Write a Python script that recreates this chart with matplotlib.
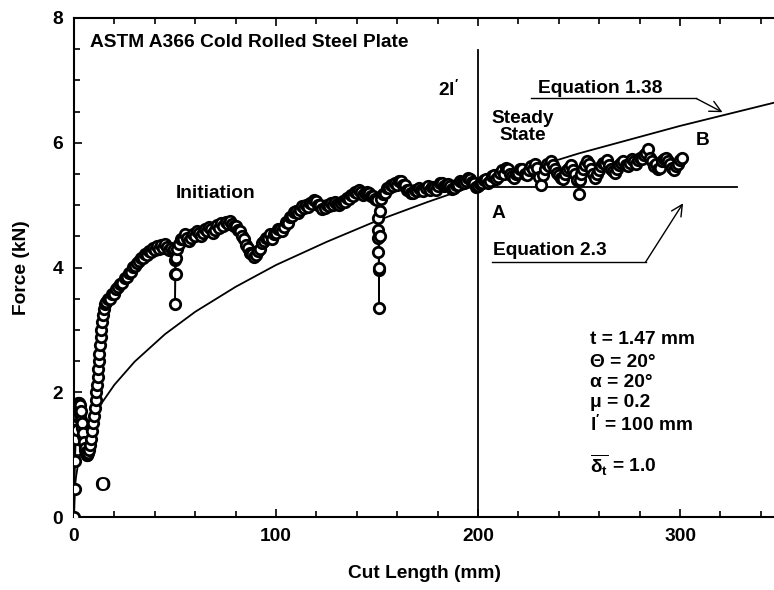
"""Cutting force vs cut length, ASTM A366 cold rolled steel plate."""
import matplotlib

matplotlib.use("Agg")
import matplotlib.pyplot as plt
from matplotlib.ticker import MultipleLocator

plt.rcParams["font.family"] = ["Liberation Sans", "DejaVu Sans"]
plt.rcParams["font.weight"] = "bold"
plt.rcParams["axes.labelweight"] = "bold"
plt.rcParams["mathtext.fontset"] = "custom"
plt.rcParams["mathtext.rm"] = "Liberation Sans:bold"
plt.rcParams["mathtext.it"] = "Liberation Sans:bold"
plt.rcParams["mathtext.default"] = "rm"

cut_length = [
    0.0, 0.3, 0.6, 0.9, 1.2, 1.4, 1.6, 1.8, 2.0, 2.3, 2.5, 2.8, 3.0, 3.3,
    3.5, 3.8, 4.0, 4.3, 4.5, 4.8, 5.0, 5.3, 5.5, 5.8, 6.0, 6.3, 6.5, 6.8,
    7.0, 7.5, 8.0, 8.5, 9.0, 9.5, 10.0, 10.4, 10.8, 11.1, 11.4,
    11.7, 12.0, 12.3, 12.6, 12.9, 13.2, 13.5, 13.8, 14.2, 14.7, 15.3,
    16, 17, 18, 19, 20, 21, 22, 23, 24, 25,
    26, 27, 28, 29, 30, 31, 32, 33, 34, 35,
    36, 37, 38, 39, 40, 41, 42, 43, 44, 45,
    46, 47, 48, 49,
    49.5, 49.8, 50.0, 50.1, 50.3, 50.6, 51,
    52, 53, 54, 55, 56, 57, 58, 59,
    60, 61, 62, 63, 64, 65, 66, 67, 68, 69,
    70, 71, 72, 73, 74, 75, 76, 77, 78, 79,
    80, 81, 82, 83, 84, 85, 86, 87, 88, 89,
    90, 91, 92, 93, 94, 95, 96, 97, 98, 99,
    100, 101, 102, 103, 104, 105, 106, 107, 108, 109,
    110, 111, 112, 113, 114, 115, 116, 117, 118, 119,
    120, 121, 122, 123, 124, 125, 126, 127, 128, 129,
    130, 131, 132, 133, 134, 135, 136, 137, 138, 139,
    140, 141, 142, 143, 144, 145, 146, 147, 148, 149,
    150, 150.3, 150.5, 150.6, 150.7, 150.8, 150.9, 151.0, 151.3, 151.6,
    152, 153, 154, 155, 156, 157, 158, 159,
    160, 161, 162, 163, 164, 165, 166, 167, 168, 169,
    170, 171, 172, 173, 174, 175, 176, 177, 178, 179,
    180, 181, 182, 183, 184, 185, 186, 187, 188, 189,
    190, 191, 192, 193, 194, 195, 196, 197, 198, 199,
    200, 201, 202, 203, 204, 205, 206, 207, 208, 209,
    210, 211, 212, 213, 214, 215, 216, 217, 218, 219,
    220, 221, 222, 223, 224, 225, 226, 227, 228, 229,
    230, 231, 232, 233, 234, 235, 236, 237, 238, 239,
    240, 241, 242, 243, 244, 245, 246, 247, 248, 249,
    250, 250.5,
    251, 252, 253, 254, 255, 256, 257, 258, 259,
    260, 261, 262, 263, 264, 265, 266, 267, 268, 269,
    270, 271, 272, 273, 274, 275, 276, 277, 278, 279,
    280, 281, 282, 283, 284, 285, 286, 287, 288, 289,
    290, 291, 292, 293, 294, 295, 296, 297, 298, 299,
    300, 301,
]
force = [
    0.0, 0.45, 0.9, 1.25, 1.55, 1.4, 1.75, 1.6, 1.82, 1.7, 1.83, 1.65,
    1.8, 1.55, 1.7, 1.42, 1.5, 1.3, 1.35, 1.18, 1.2, 1.08, 1.1, 1.02, 1.05,
    1.0, 1.0, 1.04, 1.02, 1.08, 1.15, 1.25, 1.38, 1.5, 1.62, 1.75,
    1.88, 2.0, 2.12, 2.25, 2.38, 2.5, 2.62, 2.75, 2.88, 3.0, 3.12, 3.24,
    3.34, 3.42,
    3.45, 3.49, 3.50, 3.57, 3.58, 3.65, 3.68, 3.73, 3.75, 3.83,
    3.85, 3.91, 3.93, 4.01, 4.02, 4.08, 4.10, 4.15, 4.16, 4.22,
    4.20, 4.27, 4.25, 4.31, 4.28, 4.34, 4.30, 4.36, 4.32, 4.37,
    4.33, 4.28, 4.32, 4.26,
    4.30, 4.12, 3.90, 3.42, 3.90, 4.15, 4.30,
    4.38, 4.45, 4.45, 4.53, 4.48, 4.43, 4.47, 4.54,
    4.50, 4.58, 4.55, 4.50, 4.55, 4.61, 4.58, 4.65, 4.62, 4.56,
    4.60, 4.68, 4.63, 4.71, 4.66, 4.73, 4.70, 4.75, 4.70, 4.66,
    4.66, 4.60, 4.58, 4.50, 4.45, 4.36, 4.32, 4.24, 4.22, 4.17,
    4.20, 4.27, 4.30, 4.39, 4.42, 4.48, 4.48, 4.53, 4.45, 4.53,
    4.55, 4.61, 4.62, 4.59, 4.65, 4.73, 4.72, 4.81, 4.82, 4.89,
    4.90, 4.87, 4.92, 4.98, 4.95, 5.01, 4.97, 5.03, 5.02, 5.08,
    5.06, 5.00, 5.00, 4.94, 4.96, 5.01, 4.98, 5.03, 5.00, 5.05,
    5.02, 5.00, 5.04, 5.07, 5.05, 5.11, 5.10, 5.16, 5.15, 5.21,
    5.20, 5.24, 5.21, 5.17, 5.20, 5.21, 5.20, 5.15, 5.15, 5.10,
    5.08, 4.80, 4.60, 4.47, 4.25, 3.96, 3.35, 4.00, 4.50, 4.90,
    5.10, 5.18, 5.20, 5.28, 5.28, 5.33, 5.30, 5.35,
    5.33, 5.39, 5.38, 5.33, 5.32, 5.25, 5.25, 5.19, 5.20, 5.24,
    5.22, 5.27, 5.25, 5.23, 5.28, 5.30, 5.25, 5.29, 5.27, 5.25,
    5.30, 5.36, 5.35, 5.31, 5.33, 5.34, 5.30, 5.26, 5.28, 5.33,
    5.33, 5.39, 5.37, 5.35, 5.38, 5.43, 5.42, 5.37, 5.35, 5.29,
    5.30, 5.34, 5.36, 5.40, 5.42, 5.36, 5.38, 5.46, 5.48, 5.42,
    5.45, 5.52, 5.56, 5.50, 5.60, 5.58, 5.50, 5.46, 5.44, 5.50,
    5.52, 5.58, 5.58, 5.50, 5.48, 5.56, 5.62, 5.58, 5.66, 5.60,
    5.45, 5.32, 5.48, 5.58, 5.66, 5.62, 5.70, 5.64, 5.58, 5.52,
    5.48, 5.44, 5.42, 5.50, 5.56, 5.60, 5.64, 5.56, 5.50, 5.40,
    5.18, 5.40,
    5.50, 5.58, 5.64, 5.70, 5.66, 5.58, 5.50, 5.44, 5.50,
    5.56, 5.62, 5.68, 5.66, 5.72, 5.64, 5.58, 5.54, 5.52, 5.58,
    5.64, 5.68, 5.70, 5.64, 5.62, 5.68, 5.74, 5.70, 5.66, 5.72,
    5.76, 5.74, 5.80, 5.84, 5.90, 5.76, 5.70, 5.62, 5.66, 5.58,
    5.60, 5.70, 5.74, 5.76, 5.70, 5.66, 5.60, 5.56, 5.62, 5.66,
    5.72, 5.75,
]

# Equation 1.38 prediction
eq138_x = [0, 0.5, 1, 2, 4, 7, 10, 14, 20, 30, 45, 60, 80, 100, 125, 150,
           175, 200, 225, 250, 275, 300, 325, 350]
eq138_y = [0.0, 0.49, 0.64, 0.85, 1.11, 1.39, 1.61, 1.84, 2.12, 2.49, 2.93,
           3.29, 3.69, 4.04, 4.41, 4.75, 5.05, 5.33, 5.58, 5.83, 6.05, 6.27,
           6.47, 6.67]

# Equation 2.3 steady-state level
eq23_x = [200, 328]
eq23_y = [5.29, 5.29]

# 2l' boundary
boundary_x = 200
boundary_top = 7.48

params = ["t = 1.47 mm", "\u0398 = 20\u00b0", "\u03b1 = 20\u00b0",
          "\u03bc = 0.2", "l$^{\\prime}$ = 100 mm",
          "$\\overline{\\delta_{t}}$ = 1.0"]
params_y = [2.84, 2.47, 2.16, 1.84, 1.47, 0.83]

fig = plt.figure(figsize=(7.74, 5.90), dpi=100)
ax = fig.add_axes([74 / 774, 1 - 517 / 590, 700 / 774, 499 / 590])

ax.plot(eq138_x, eq138_y, color="black", lw=1.3, zorder=2)
ax.plot(eq23_x, eq23_y, color="black", lw=1.3, zorder=2)
ax.plot([boundary_x, boundary_x], [0, boundary_top], color="black", lw=1.3,
        zorder=2)
ax.plot(cut_length, force, "-o", color="black", lw=1.0, ms=7.5, mew=2.0,
        mfc="white", mec="black", zorder=3)

fs = 13.8
ax.text(8, 7.61, "ASTM A366 Cold Rolled Steel Plate", fontsize=fs,
        va="center", ha="left")
ax.text(70.3, 5.19, "Initiation", fontsize=fs, ha="center", va="center")
ax.text(180, 6.84, "2l$^{\\prime}$", fontsize=fs, ha="left", va="center")
ax.text(222, 6.25, "Steady\nState", fontsize=fs, ha="center", va="center",
        linespacing=1.0)
ax.text(311, 6.03, "B", fontsize=fs, ha="center", va="center")
ax.text(210, 4.87, "A", fontsize=fs, ha="center", va="center")
ax.text(14, 0.5, "O", fontsize=15, ha="center", va="center")

# Equation labels with leader lines
ax.text(229.7, 6.87, "Equation 1.38", fontsize=fs, ha="left", va="center")
ax.plot([226, 308], [6.71, 6.71], color="black", lw=1.0)
ax.annotate("", xy=(321, 6.49), xytext=(308, 6.71),
            arrowprops=dict(arrowstyle="->", lw=1.0, color="black",
                            mutation_scale=20, shrinkA=0, shrinkB=0))
ax.text(207.4, 4.28, "Equation 2.3", fontsize=fs, ha="left", va="center")
ax.plot([207, 283], [4.09, 4.09], color="black", lw=1.0)
ax.annotate("", xy=(301.5, 5.03), xytext=(283, 4.09),
            arrowprops=dict(arrowstyle="->", lw=1.0, color="black",
                            mutation_scale=20, shrinkA=0, shrinkB=0))

for label, y in zip(params, params_y):
    ax.text(255.4, y, label, fontsize=fs, ha="left", va="center")

ax.set_xlim(0, 346.5)
ax.set_ylim(0, 8)
ax.xaxis.set_major_locator(MultipleLocator(100))
ax.xaxis.set_minor_locator(MultipleLocator(20))
ax.yaxis.set_major_locator(MultipleLocator(2))
ax.yaxis.set_minor_locator(MultipleLocator(0.5))
ax.tick_params(which="both", direction="in", top=True, right=False,
               labelsize=fs, width=1.2)
ax.tick_params(which="major", length=6, pad=8)
ax.tick_params(which="minor", length=4)
for lbl in ax.get_xticklabels() + ax.get_yticklabels():
    lbl.set_fontweight("bold")
ax.spines["right"].set_visible(False)
for side in ("left", "bottom", "top"):
    ax.spines[side].set_linewidth(1.5)

ax.set_xlabel("Cut Length (mm)", fontsize=fs, labelpad=14)
ax.set_ylabel("Force (kN)", fontsize=fs, labelpad=16)

fig.savefig("out.png", dpi=100)
